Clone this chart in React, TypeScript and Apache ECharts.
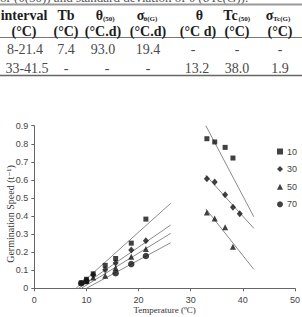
import React, { useEffect, useRef } from "react";
import * as echarts from "echarts";

// Germination speed observations per germination fraction (%)
const temps10 = [9.0, 10.0, 11.3, 13.6, 15.6, 18.6, 21.4, 33.1, 34.6, 36.6, 38.1];
const speed10 = [0.03, 0.05, 0.08, 0.127, 0.165, 0.25, 0.383, 0.828, 0.81, 0.78, 0.721];
const temps30 = [10.0, 11.3, 13.6, 15.6, 18.6, 21.4, 33.1, 34.6, 36.6, 38.1, 39.4];
const speed30 = [0.045, 0.075, 0.103, 0.14, 0.212, 0.263, 0.607, 0.588, 0.518, 0.448, 0.413];
const temps50 = [10.0, 11.3, 13.6, 15.6, 18.6, 21.4, 33.1, 34.6, 36.6, 38.1];
const speed50 = [0.04, 0.06, 0.07, 0.112, 0.175, 0.217, 0.42, 0.387, 0.338, 0.23];
const temps70 = [9.0, 10.0, 15.6, 18.6, 21.4];
const speed70 = [0.028, 0.04, 0.083, 0.134, 0.179];

// Fitted regression lines (sub-optimal and supra-optimal ranges)
const fitLow10 = [[8.0, 0], [26.15, 0.47]];
const fitLow30 = [[8.5, 0], [26.15, 0.35]];
const fitLow50 = [[9.0, 0], [26.15, 0.304]];
const fitLow70 = [[10.0, 0], [26.15, 0.252]];
const fitHigh10 = [[32.9, 0.9], [42.1, 0.396]];
const fitHigh30 = [[32.9, 0.625], [42.1, 0.332]];
const fitHigh50 = [[32.9, 0.44], [42.1, 0.105]];

const seriesNames = ["10", "30", "50", "70"];

// Table contents
const headerUnits = ["(°C)", "(°C)", "(°C.d)", "(°C.d)", "(°C d)", "(°C)", "(°C)"];
const row1 = ["8-21.4", "7.4", "93.0", "19.4", "-", "-", "-"];
const row2 = ["33-41.5", "-", "-", "-", "13.2", "38.0", "1.9"];

const SERIF = "'Liberation Serif', 'DejaVu Serif', serif";
const SANS = "'Liberation Sans', Arial, sans-serif";

function txt(x: number, y: number, text: string, font: string, fill: string, align = "center") {
  return {
    type: "text",
    x,
    y,
    silent: true,
    style: {
      text,
      font,
      fill,
      align,
      verticalAlign: "middle",
      textAlign: align,
      textVerticalAlign: "middle",
    },
  };
}

function hline(y: number, w: number, color: string) {
  return {
    type: "line",
    silent: true,
    shape: { x1: 0, y1: y, x2: 302, y2: y },
    style: { stroke: color, lineWidth: w },
  };
}

export default function App() {
  const ref = useRef<HTMLDivElement>(null);

  useEffect(() => {
    if (!ref.current) return;
    const chart = echarts.init(ref.current, undefined, { renderer: "svg" });

    const zip = (xs: number[], ys: number[]) => xs.map((x, i) => [x, ys[i]]);
    const fitLine = (data: number[][]) => ({
      type: "line",
      data,
      symbol: "none",
      silent: true,
      lineStyle: { color: "#8a8a8a", width: 1 },
      z: 1,
    });
    const markColor = "#111";

    const headFont = `bold 14px ${SERIF}`;
    const subFont = `bold 7px ${SERIF}`;
    const cellFont = `14px ${SERIF}`;
    const headColor = "#1c1c1c";
    const cellColor = "#4a4a4a";
    const colX = [25, 66, 103, 148, 197, 237, 280];

    const graphic: any[] = [
      // caption fragment above the table
      txt(0, -3, "or (θ(50)) and standard deviation of θ (σTc(G)).", `13px ${SERIF}`, "#555", "left"),
      hline(4.5, 2, "#9a9a9a"),
      hline(37.5, 1.2, "#777"),
      hline(75.5, 1.5, "#666"),
      // header, first line
      txt(24, 15, "interval", headFont, headColor),
      txt(66, 15, "Tb", headFont, headColor),
      txt(99.5, 15, "θ", headFont, headColor),
      txt(103, 18.5, "(50)", subFont, headColor, "left"),
      txt(140.5, 15, "σ", headFont, headColor),
      txt(143.5, 18.5, "θ(G)", subFont, headColor, "left"),
      txt(199.5, 15, "θ", headFont, headColor),
      txt(230.5, 15, "Tc", headFont, headColor),
      txt(238.5, 18.5, "(50)", subFont, headColor, "left"),
      txt(269.5, 15, "σ", headFont, headColor),
      txt(273, 18.5, "Tc(G)", subFont, headColor, "left"),
      // axis titles
      txt(164.6, 309.5, "Temperature (ºC)", `9px ${SERIF}`, "#333"),
      {
        type: "text",
        x: 10,
        y: 214,
        rotation: Math.PI / 2,
        silent: true,
        style: {
          text: "Germination Speed (t⁻¹)",
          font: `10px ${SERIF}`,
          fill: "#333",
          align: "center",
          verticalAlign: "middle",
          textAlign: "center",
          textVerticalAlign: "middle",
        },
      },
    ];
    headerUnits.forEach((t, i) => graphic.push(txt(colX[i] === 25 ? 24 : colX[i] + (i === 4 ? 1 : 0), 31, t, headFont, headColor)));
    row1.forEach((t, i) => graphic.push(txt(i === 4 ? 193 : colX[i], 49, t, cellFont, cellColor)));
    row2.forEach((t, i) => graphic.push(txt(i === 0 ? 27 : i === 2 ? 107 : colX[i], 68, t, cellFont, cellColor)));

    chart.setOption({
      animation: false,
      grid: {
        left: 34.3,
        right: 7,
        top: 125.7,
        bottom: 28.7,
        containLabel: false,
        outerBoundsMode: "none",
      },
      xAxis: {
        type: "value",
        min: 0,
        max: 50,
        interval: 10,
        axisLine: { show: true, lineStyle: { color: "#666", width: 1 } },
        axisTick: { show: true, length: 3, lineStyle: { color: "#666" } },
        axisLabel: { fontFamily: SANS, fontSize: 9, color: "#444", margin: 7 },
        splitLine: { show: false },
      },
      yAxis: {
        type: "value",
        min: 0,
        max: 0.9,
        interval: 0.1,
        axisLine: { show: true, lineStyle: { color: "#666", width: 1 } },
        axisTick: { show: true, length: 3, lineStyle: { color: "#666" } },
        axisLabel: {
          fontFamily: SANS,
          fontSize: 9,
          color: "#444",
          margin: 6,
          formatter: (v: number) => (v === 0 ? "0" : v.toFixed(1)),
        },
        splitLine: { show: false },
      },
      legend: {
        data: seriesNames,
        orient: "vertical",
        left: 277,
        top: 147,
        itemWidth: 6,
        itemHeight: 6,
        itemGap: 8.6,
        textStyle: { fontFamily: SANS, fontSize: 9, color: "#444", padding: [0, 0, 0, -1] },
        padding: 0,
      },
      series: [
        fitLine(fitLow10),
        fitLine(fitLow30),
        fitLine(fitLow50),
        fitLine(fitLow70),
        fitLine(fitHigh10),
        fitLine(fitHigh30),
        fitLine(fitHigh50),
        {
          name: seriesNames[0],
          type: "scatter",
          data: zip(temps10, speed10),
          symbol: "rect",
          symbolSize: 5,
          itemStyle: { color: markColor },
          z: 3,
        },
        {
          name: seriesNames[1],
          type: "scatter",
          data: zip(temps30, speed30),
          symbol: "diamond",
          symbolSize: [6, 7],
          itemStyle: { color: markColor },
          z: 3,
        },
        {
          name: seriesNames[2],
          type: "scatter",
          data: zip(temps50, speed50),
          symbol: "triangle",
          symbolSize: 6,
          itemStyle: { color: markColor },
          z: 3,
        },
        {
          name: seriesNames[3],
          type: "scatter",
          data: zip(temps70, speed70),
          symbol: "circle",
          symbolSize: 6.5,
          itemStyle: { color: markColor },
          z: 3,
        },
      ],
      graphic,
    });

    return () => chart.dispose();
  }, []);

  return (
    <div
      ref={ref}
      style={{ position: "fixed", left: 0, top: 0, width: 302, height: 317, background: "#fff" }}
    />
  );
}
